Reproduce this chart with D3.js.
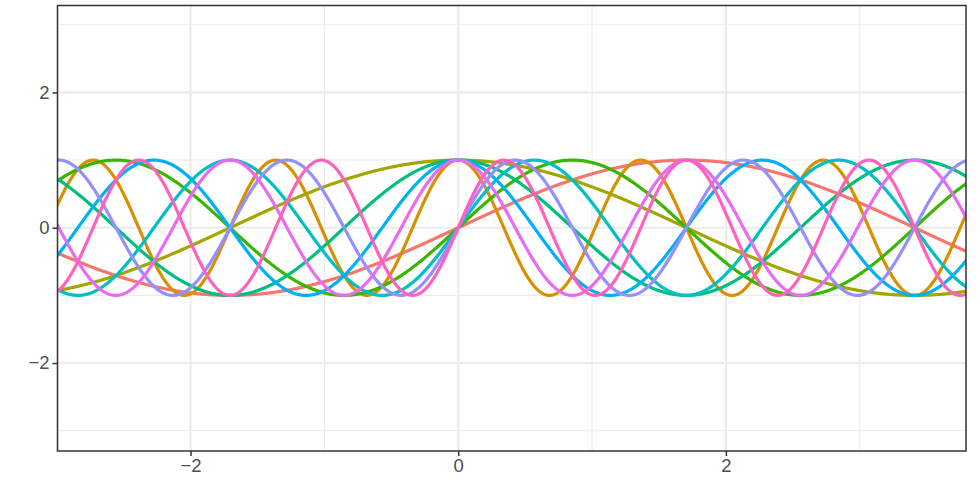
<!DOCTYPE html>
<html>
<head>
<meta charset="utf-8">
<script src="https://cdn.jsdelivr.net/npm/d3@7"></script>
<style>
  html, body { margin: 0; padding: 0; background: #ffffff; }
  svg { display: block; }
  .tick text { font-family: "Liberation Sans", Arial, sans-serif; }
</style>
</head>
<body>
<svg id="chart" width="980" height="483"></svg>
<script>
// Ten waves: sine and cosine at harmonics 1..5 of a base frequency.
const seriesNames  = ["sin1", "cos5", "cos1", "sin2", "cos2", "sin3", "cos3", "sin4", "cos4", "sin5"];
const seriesWave   = ["sin",  "cos",  "cos",  "sin",  "cos",  "sin",  "cos",  "sin",  "cos",  "sin"];
const seriesHarm   = [1, 5, 1, 2, 2, 3, 3, 4, 4, 5];
const seriesColors = ["#F8766D", "#D89000", "#A3A500", "#39B600", "#00BF7D",
                      "#00BFC4", "#00B0F6", "#9590FF", "#E76BF3", "#FF62BC"];
const baseFreq = Math.PI / 3.41;

const xDomain = [-2.994, 3.794];
const yDomain = [-3.3, 3.285];
const xTicks = [-2, 0, 2];
const yTicks = [-2, 0, 2];
const xMinor = [-1, 1, 3];
const yMinor = [-3, -1, 1, 3];

const margin = { left: 57.5, right: 14, top: 5.5, bottom: 32 };
const W = 980, H = 483;
const svg = d3.select("#chart");

const x = d3.scaleLinear().domain(xDomain).range([margin.left, W - margin.right]);
const y = d3.scaleLinear().domain(yDomain).range([H - margin.bottom, margin.top]);

const fmt = d => (d < 0 ? "\u2212" + Math.abs(d) : String(d));

// panel background
svg.append("rect")
  .attr("x", margin.left).attr("y", margin.top)
  .attr("width", W - margin.left - margin.right)
  .attr("height", H - margin.top - margin.bottom)
  .attr("fill", "#ffffff");

const grid = svg.append("g");
// minor grid
grid.selectAll(".vminor").data(xMinor).join("line")
  .attr("x1", d => x(d)).attr("x2", d => x(d))
  .attr("y1", margin.top).attr("y2", H - margin.bottom)
  .attr("stroke", "#EBEBEB").attr("stroke-width", 1.07);
grid.selectAll(".hminor").data(yMinor).join("line")
  .attr("y1", d => y(d)).attr("y2", d => y(d))
  .attr("x1", margin.left).attr("x2", W - margin.right)
  .attr("stroke", "#EBEBEB").attr("stroke-width", 1.07);
// major grid
grid.selectAll(".vmajor").data(xTicks).join("line")
  .attr("x1", d => x(d)).attr("x2", d => x(d))
  .attr("y1", margin.top).attr("y2", H - margin.bottom)
  .attr("stroke", "#EBEBEB").attr("stroke-width", 2.13);
grid.selectAll(".hmajor").data(yTicks).join("line")
  .attr("y1", d => y(d)).attr("y2", d => y(d))
  .attr("x1", margin.left).attr("x2", W - margin.right)
  .attr("stroke", "#EBEBEB").attr("stroke-width", 2.13);

// curves
svg.append("clipPath").attr("id", "panel-clip")
  .append("rect")
  .attr("x", margin.left).attr("y", margin.top)
  .attr("width", W - margin.left - margin.right)
  .attr("height", H - margin.bottom - margin.top);

const xs = d3.range(xDomain[0] - 0.05, xDomain[1] + 0.05, 0.005);
const series = seriesNames.map((name, i) => ({
  name,
  color: seriesColors[i],
  values: xs.map(v => {
    const a = seriesHarm[i] * baseFreq * v;
    return { x: v, y: seriesWave[i] === "sin" ? Math.sin(a) : Math.cos(a) };
  })
}));

const line = d3.line().x(d => x(d.x)).y(d => y(d.y));
svg.append("g").attr("clip-path", "url(#panel-clip)")
  .selectAll("path").data(series).join("path")
  .attr("d", d => line(d.values))
  .attr("fill", "none")
  .attr("stroke", d => d.color)
  .attr("stroke-width", 3.2)
  .attr("stroke-linejoin", "round")
  .attr("stroke-linecap", "butt");

// panel border
svg.append("rect")
  .attr("x", margin.left).attr("y", margin.top)
  .attr("width", W - margin.left - margin.right)
  .attr("height", H - margin.top - margin.bottom)
  .attr("fill", "none").attr("stroke", "#333333").attr("stroke-width", 1.5);

// axes
const xAxis = d3.axisBottom(x).tickValues(xTicks).tickFormat(fmt).tickSizeInner(5).tickSizeOuter(0).tickPadding(3);
const yAxis = d3.axisLeft(y).tickValues(yTicks).tickFormat(fmt).tickSizeInner(5).tickSizeOuter(0).tickPadding(3);

const gx = svg.append("g").attr("transform", `translate(0,${H - margin.bottom})`).call(xAxis);
const gy = svg.append("g").attr("transform", `translate(${margin.left},0)`).call(yAxis);
[gx, gy].forEach(g => {
  g.select(".domain").remove();
  g.selectAll(".tick line").attr("stroke", "#333333").attr("stroke-width", 1.5);
  g.selectAll(".tick text").attr("fill", "#4D4D4D").style("font-size", "18.5px");
});
</script>
</body>
</html>
